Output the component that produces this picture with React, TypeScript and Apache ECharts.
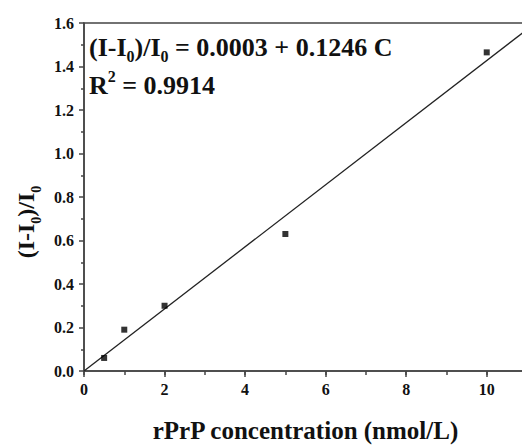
import React, { useEffect, useRef } from "react";
import * as echarts from "echarts";

const concX = [0.5, 1, 2, 5, 10];
const ratioY = [0.06, 0.19, 0.3, 0.63, 1.465];
const fitX = [0, 11];
const fitY = [0.0, 1.57];
const yTicks = { min: 0, max: 1.6, interval: 0.2 };
const xTicks = { min: 0, max: 11, interval: 2 };

const FONT = "'Liberation Serif', 'Times New Roman', serif";

export default function App() {
  const ref = useRef<HTMLDivElement>(null);
  useEffect(() => {
    if (!ref.current) return;
    const chart = echarts.init(ref.current, null, { renderer: "svg" });
    const axisColor = "#444";
    const labelStyle = {
      fontFamily: FONT,
      fontWeight: "bold" as const,
      fontSize: 16,
      color: "#111",
    };
    const rich = (size: number) => ({
      m: { fontFamily: FONT, fontWeight: "bold", fontSize: size, lineHeight: 34, fill: "#111" },
      s: { fontFamily: FONT, fontWeight: "bold", fontSize: Math.round(size * 0.6), lineHeight: 16, verticalAlign: "bottom", fill: "#111" },
      p: { fontFamily: FONT, fontWeight: "bold", fontSize: Math.round(size * 0.6), lineHeight: 16, verticalAlign: "top", fill: "#111" },
    });
    chart.setOption({
      animation: false,
      backgroundColor: "#fff",
      grid: {
        left: 84,
        top: 23,
        right: 2,
        bottom: 70,
        show: true,
        borderColor: axisColor,
        borderWidth: 1.5,
        containLabel: false,
      },
      xAxis: [
        {
          type: "value",
          min: xTicks.min,
          max: xTicks.max,
          interval: xTicks.interval,
          axisLine: { show: true, lineStyle: { color: axisColor, width: 1.5 } },
          axisTick: { show: true, length: 6, lineStyle: { color: axisColor, width: 1.5 } },
          minorTick: { show: false },
          splitLine: { show: false },
          axisLabel: {
            ...labelStyle,
            margin: 10,
            formatter: (v: number) => (v % 2 === 0 && v <= 10 ? String(v) : ""),
          },
          name: "rPrP concentration (nmol/L)",
          nameLocation: "middle",
          nameGap: 47,
          nameTextStyle: { fontFamily: FONT, fontWeight: "bold", fontSize: 25, color: "#111" },
        },
        {
          type: "value",
          position: "bottom",
          min: xTicks.min,
          max: xTicks.max,
          interval: 1,
          axisLine: { show: false },
          axisTick: { show: true, length: 4, lineStyle: { color: axisColor, width: 1.5 } },
          splitLine: { show: false },
          axisLabel: { show: false },
        },
      ],
      yAxis: {
        type: "value",
        min: yTicks.min,
        max: yTicks.max,
        interval: yTicks.interval,
        axisLine: { show: true, lineStyle: { color: axisColor, width: 1.5 } },
        axisTick: { show: true, length: 5, lineStyle: { color: axisColor, width: 1.5 } },
        minorTick: { show: true, splitNumber: 2, length: 3, lineStyle: { color: axisColor, width: 1.5 } },
        splitLine: { show: false },
        axisLabel: { ...labelStyle, margin: 10, formatter: (v: number) => v.toFixed(1) },
      },
      series: [
        {
          type: "line",
          xAxisIndex: 0,
          data: fitX.map((x, i) => [x, fitY[i]]),
          showSymbol: false,
          symbol: "none",
          lineStyle: { color: "#222", width: 1.3 },
          z: 2,
        },
        {
          type: "scatter",
          xAxisIndex: 0,
          data: concX.map((x, i) => [x, ratioY[i]]),
          symbol: "rect",
          symbolSize: 6,
          itemStyle: { color: "#000" },
          z: 3,
        },
      ],
      graphic: [
        {
          type: "text",
          x: 89,
          y: 30,
          style: {
            text: "{m|(I-I}{s|0}{m|)/I}{s|0}{m| = 0.0003 + 0.1246 C}",
            rich: rich(26),
            align: "left",
            verticalAlign: "top",
          },
          z: 10,
        },
        {
          type: "text",
          x: 89,
          y: 68,
          style: {
            text: "{m|R}{p|2}{m| = 0.9914}",
            rich: rich(26),
            align: "left",
            verticalAlign: "top",
          },
          z: 10,
        },
        {
          type: "text",
          x: 26,
          y: 222,
          rotation: Math.PI / 2,
          style: {
            text: "{m|(I-I}{s|0}{m|)/I}{s|0}",
            rich: rich(24),
            align: "center",
            verticalAlign: "middle",
          },
          z: 10,
        },
      ],
    });
    return () => chart.dispose();
  }, []);
  return (
    <div style={{ position: "absolute", left: 0, top: 0, width: 522, height: 448, overflow: "hidden", background: "#fff" }}>
      <div ref={ref} style={{ width: 530, height: 448 }} />
    </div>
  );
}
